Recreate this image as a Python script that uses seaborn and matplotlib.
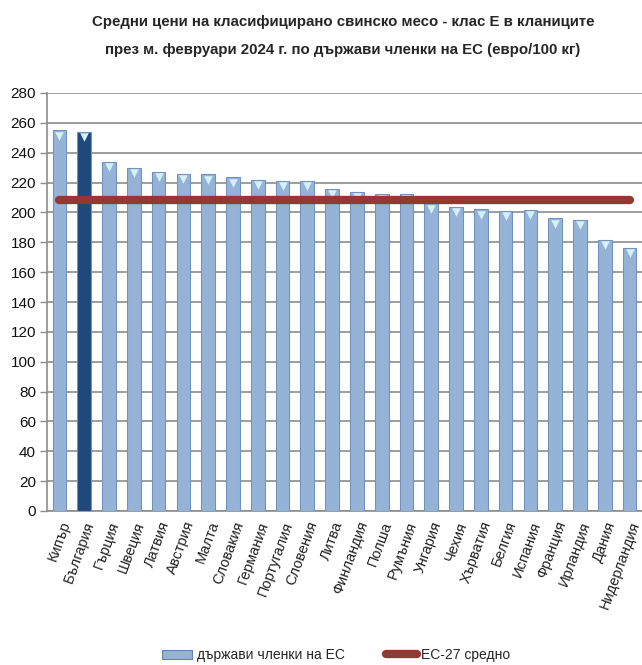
import matplotlib
matplotlib.use("Agg")
import matplotlib.pyplot as plt
import seaborn as sns
import numpy as np
import pandas as pd
from matplotlib.lines import Line2D
from matplotlib.patches import Patch

countries = ["Кипър", "България", "Гърция", "Швеция", "Латвия", "Австрия", "Малта",
             "Словакия", "Германия", "Португалия", "Словения", "Литва", "Финландия",
             "Полша", "Румъния", "Унгария", "Чехия", "Хърватия", "Белгия", "Испания",
             "Франция", "Ирландия", "Дания", "Нидерландия"]
prices = [255, 254, 234, 230, 227, 225.7, 225.5, 223.5, 222, 221, 221, 216, 213.6,
          212.5, 212.5, 206, 203.5, 202, 201, 201.5, 196, 195, 181.5, 176]
eu_avg = 208
highlight = "България"
yticks = list(range(0, 281, 20))
title_lines = ["Средни цени на класифицирано свинско месо - клас Е в кланиците",
               "през м. февруари 2024 г. по държави членки на ЕС (евро/100 кг)"]
legend_bars = "държави членки на ЕС"
legend_line = "ЕС-27 средно"

sns.set_theme(style="white")
fam = ["Liberation Sans", "DejaVu Sans"]
plt.rcParams["font.family"] = fam

light = "#95B3D7"
dark = "#1F497D"
red = "#953735"

df = pd.DataFrame({"country": countries, "price": prices})
colors = [dark if c == highlight else light for c in countries]

fig = plt.figure(figsize=(6.42, 6.65), dpi=100)
ax = fig.add_axes([47/642, 1-511/665, 595/642, (511-93)/665])

sns.barplot(data=df, x="country", y="price", hue="country", palette=colors,
            legend=False, width=0.55, saturation=1, ax=ax,
            edgecolor="#7393BD", linewidth=0.8, zorder=3)
# top highlight markers
ax.scatter(np.arange(len(countries)), np.array(prices) - 3.5, marker="v", s=38,
           color="#D6F0FB", zorder=4, linewidths=0)

# EU average line
ax.plot([0, len(countries) - 1], [eu_avg, eu_avg], color=red, lw=6,
        solid_capstyle="round", zorder=5)

ax.set_ylim(0, 280)
ax.set_xlim(-0.5, -0.5 + 595/24.9)
ax.set_yticks(yticks)
ax.set_yticklabels([str(t) for t in yticks], fontsize=11, color="#111111")
ax.yaxis.grid(True, color="#8C8C8C", lw=1.2, zorder=0)
ax.set_axisbelow(True)
ax.set_xlabel("")
ax.set_ylabel("")

ax.set_xticks(np.arange(len(countries)))
ax.set_xticklabels(countries, rotation=70, ha="right", va="top",
                   rotation_mode="anchor", fontsize=10.5, color="#222222")
ax.set_xticks(np.arange(-0.5, len(countries), 1), minor=True)
ax.tick_params(axis="x", which="major", length=0, pad=6)
ax.tick_params(axis="x", which="minor", length=5, color="#8C8C8C", width=1)
ax.tick_params(axis="y", length=5, color="#8C8C8C", width=1, left=True, pad=3)

for s in ["top", "right"]:
    ax.spines[s].set_visible(False)
ax.spines["left"].set_color("#8C8C8C")
ax.spines["bottom"].set_color("#8C8C8C")
ax.spines["left"].set_linewidth(1.2)
ax.spines["bottom"].set_linewidth(1.2)

fig.text(343/642, 1-22/665, title_lines[0], ha="center", va="center", fontsize=10.8,
         fontweight="bold", family=fam)
fig.text(343/642, 1-50/665, title_lines[1], ha="center", va="center", fontsize=10.8,
         fontweight="bold", family=fam)

handles = [Patch(facecolor=light, edgecolor="#5F84B5", linewidth=0.8),
           Line2D([0], [0], color=red, lw=6, solid_capstyle="round")]
fig.legend(handles, [legend_bars, legend_line], loc="center",
           bbox_to_anchor=(336/642, 1-655/665), ncol=2, frameon=False,
           fontsize=10, handlelength=2.2, handleheight=0.6, columnspacing=3.0,
           handletextpad=0.3)

fig.savefig("out.png", dpi=100)
